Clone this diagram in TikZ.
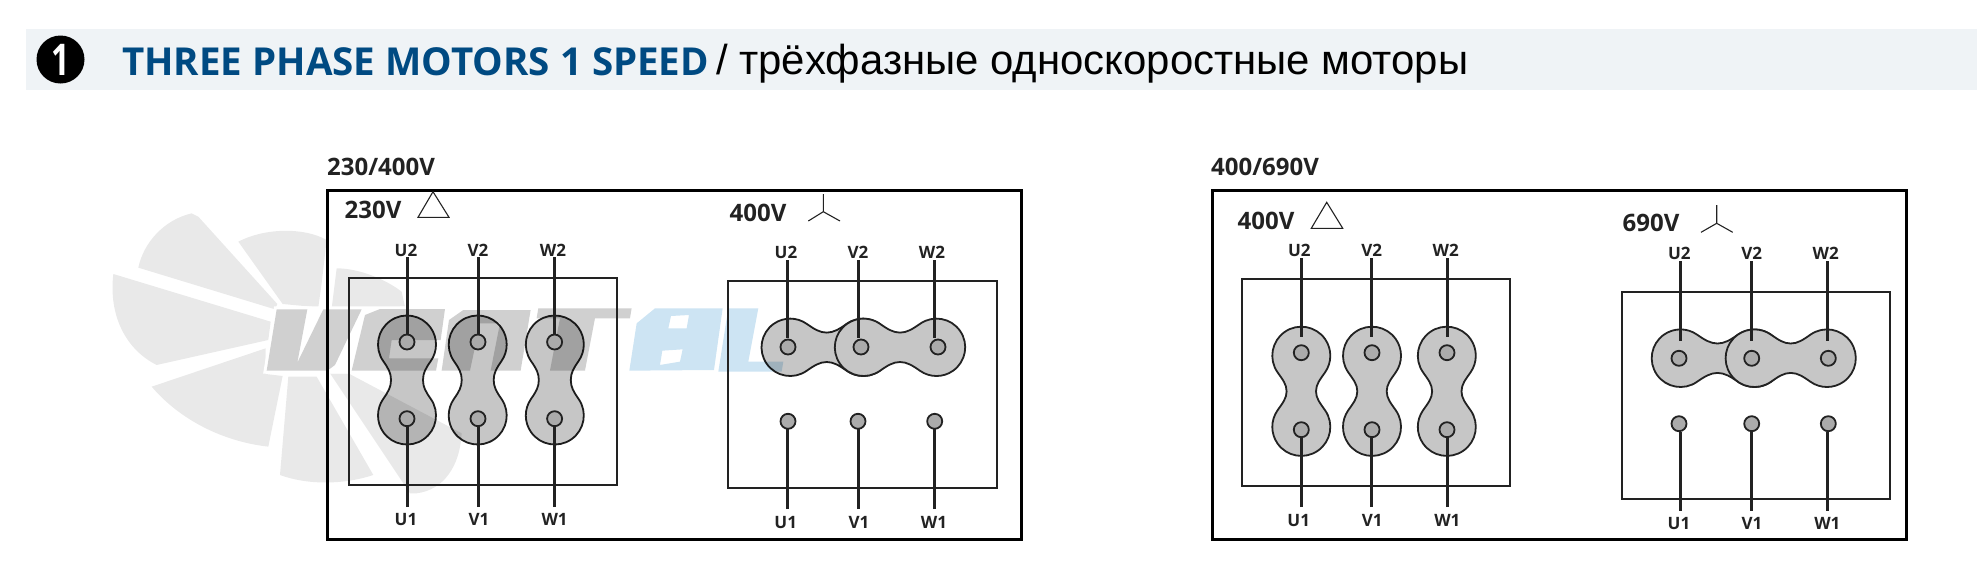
\documentclass[tikz,border=0pt]{standalone}
\usepackage{fontspec}
\setmainfont{Open Sans}
\newfontfamily\rufont{Liberation Sans}
\definecolor{ink}{HTML}{222222}
\definecolor{band}{HTML}{EFF3F6}
\definecolor{navy}{HTML}{004A82}
\definecolor{fan}{HTML}{E9E9E9}
\definecolor{logogray}{HTML}{D0D0D0}
\definecolor{logoblue}{HTML}{CDE4F3}
\definecolor{linkfill}{HTML}{C6C6C6}
\definecolor{termfill}{HTML}{ABABAB}
\tikzset{
  outerbox/.style={draw=black,line width=3pt},
  innerbox/.style={draw=ink,line width=2pt},
  wire/.style={draw=ink,line width=3pt},
  thin symbol/.style={draw=ink,line width=1.1pt},
  linkplain/.style={draw=ink,line width=1.8pt,fill=linkfill},
  linkmult/.style={linkplain,blend mode=multiply},
  terminal/.style={circle,draw=ink,line width=1.8pt,fill=termfill,minimum size=15pt,inner sep=0pt},
  termlabel/.style={text=ink,font=\fontsize{17}{20}\selectfont\bfseries,inner sep=0pt,yshift=-1pt},
  voltlabel/.style={text=ink,font=\fontsize{24}{27}\selectfont\bfseries,inner sep=0pt},
}
% peanut link: centre x y, rotation, half spacing, radius, neck half width, style
\newcommand{\linkshape}[7]{%
  \begin{scope}[shift={(#1,#2)},rotate=#3]
  \draw[#7] ([shift={(0,#4)}]-35:#5) arc[start angle=-35,end angle=215,radius=#5]
    .. controls +(305:9) and +(0,7) .. (-#6,0)
    .. controls +(0,-7) and +(55:9) .. ([shift={(0,-#4)}]145:#5)
    arc[start angle=145,end angle=395,radius=#5]
    .. controls +(125:9) and +(0,-7) .. (#6,0)
    .. controls +(0,7) and +(235:9) .. cycle;
  \end{scope}}
% wire with label and terminal: id, text, label x y, terminal x y, wire x, wire y from, wire y to
\newcommand{\lead}[9]{%
  \node[terminal] (#1t) at (#5,#6) {};
  \node[termlabel] (#1l) at (#3,#4) {#2};
  \coordinate (#1a) at (#7,#8);
  \coordinate (#1b) at (#7,#9);
  \draw[wire] (#1a) -- (#1b);}
\begin{document}
\begin{tikzpicture}[x=1pt,y=-1pt]
\useasboundingbox (0,0) rectangle (1977,563);
% watermark: fan
\begin{scope}[shift={(100,200)},x=0.3333pt,y=-0.3333pt,fill=fan]
\fill (115,203) .. controls (130,130) and (190,60) .. (275,40) -- (295,50) -- (532,312) -- (525,328) -- cycle;
\fill (40,222) -- (512,365) -- (505,420) -- (170,495) .. controls (80,450) and (25,350) .. (40,222) -- cycle;
\fill (155,560) -- (497,445) -- (497,522) -- (548,528) -- (505,740) .. controls (370,725) and (240,660) .. (155,560) -- cycle;
\fill (565,530) -- (650,530) -- (820,825) .. controls (730,855) and (620,855) .. (540,825) -- cycle;
\fill (415,125) .. controls (490,85) and (610,80) .. (680,120) -- (665,250) -- (655,322) -- (548,312) -- cycle;
\fill (710,205) .. controls (780,205) and (860,240) .. (905,275) -- (915,320) -- (790,322) -- (695,325) -- cycle;
\fill (690,520) -- (745,520) -- (1085,700) .. controls (1080,800) and (1030,870) .. (950,880) -- (930,880) -- cycle;
\end{scope}
% watermark: logo
\begin{scope}[shift={(250,290)},x=0.3333pt,y=-0.3333pt]
\path[draw=white,line width=6pt,fill=white]
  (80,58) -- (840,58) -- (815,242) -- (50,242) -- cycle;
\path[draw=white,line width=6pt,fill=white]
  (860,55) -- (1145,55) -- (1130,85) -- (1020,85) -- (985,242) -- (880,242) -- cycle;
\fill[logogray] (80,58) -- (172,58) -- (142,218) -- (220,58) -- (335,58) -- (255,225) -- (232,242) -- (50,242) -- cycle;
\fill[logogray] (345,75) -- (390,57) -- (585,57) -- (572,150) -- (425,150) -- (417,205) -- (510,205) -- (565,205) -- (558,242) -- (305,242) -- cycle;
\fill[logogray] (575,242) -- (597,90) -- (640,60) -- (842,60) -- (812,242) -- (722,242) -- (750,100) -- (690,100) -- (660,242) -- cycle;
\fill[logogray] (865,55) -- (1145,55) -- (1140,85) -- (1035,85) -- (1005,242) -- (900,242) -- (930,85) -- (860,85) -- cycle;
\end{scope}
\begin{scope}[shift={(540,290)},x=0.3333pt,y=-0.3333pt]
\fill[logoblue,even odd rule] (268,242) -- (290,100) -- (345,55) -- (548,55) -- (522,240) -- cycle
  (393,78) -- (447,75) -- (440,115) -- (385,115) -- cycle
  (367,182) -- (428,178) -- (420,215) -- (360,225) -- cycle;
\fill[logoblue] (565,55) -- (655,55) -- (625,215) -- (730,215) -- (725,245) -- (535,245) -- cycle;
\end{scope}
% header
\fill[band] (26,29) rectangle (1977,89.5);
\node[circle,fill=black,minimum size=48pt,inner sep=0pt,text=white,font=\fontsize{38}{40}\selectfont\bfseries] (bullet) at (60.5,59.5) {\scalebox{0.85}[1.15]{1}};
\node[anchor=base west,inner sep=0pt,text=navy,font=\fontsize{38.5}{40}\selectfont\bfseries] (titleen) at (122,75) {THREE PHASE MOTORS 1 SPEED};
\node[anchor=base west,inner sep=0pt,text=black,font=\fontsize{41.9}{44}\selectfont\rufont] (titleru) at (716,74.5) {/ трёхфазные односкоростные моторы};
% panel 1
\node[voltlabel] (p1) at (381,167) {230/400V};
\path[outerbox] (327,190) rectangle (1021.5,539);
\path[innerbox] (349,277.7) rectangle (617,484.7);
\node[voltlabel] (p1a) at (373,210) {230V};
\draw[thin symbol] (433,191.7) -- (418,217.3) -- (449,217.3) -- cycle;
\linkshape{407}{380}{0}{35.5}{29}{16}{linkmult}
\linkshape{477.7}{380}{0}{35.5}{29}{16}{linkmult}
\linkshape{554.8}{380}{0}{35.5}{29}{16}{linkmult}
\lead{au2}{U2}{406}{249.7}{407}{342}{407}{257}{335}
\lead{av2}{V2}{478}{249.7}{478}{342}{478}{257}{335}
\lead{aw2}{W2}{553}{249.7}{554.6}{342}{554.6}{257}{335}
\lead{au1}{U1}{406}{518.7}{407}{418.7}{407}{507}{425}
\lead{av1}{V1}{479}{518.7}{478}{418.7}{478}{507}{425}
\lead{aw1}{W1}{554.6}{518.7}{554.6}{418.7}{554.6}{507}{425}
% panel 2
\path[innerbox] (727.7,281) rectangle (997,488);
\node[voltlabel] (p1b) at (758,212.7) {400V};
\coordinate (s1) at (823.3,211.7);
\coordinate (s1a) at (823.3,194);
\coordinate (s1b) at (808.3,221);
\coordinate (s1c) at (840,221);
\draw[thin symbol] (s1) -- (s1a) (s1) -- (s1b) (s1) -- (s1c);
\linkshape{826.7}{347.3}{90}{36.5}{28.7}{14.7}{linkmult}
\linkshape{900}{347.3}{90}{36.5}{28.7}{14.7}{linkplain}
\lead{bu2}{U2}{786}{251.7}{788}{347}{787.3}{260}{338}
\lead{bv2}{V2}{858}{251.7}{861}{347}{858.3}{260}{338}
\lead{bw2}{W2}{932}{251.7}{938}{347}{934.3}{260}{338}
\lead{bu1}{U1}{785.7}{521.3}{788}{421.3}{787.3}{509}{428}
\lead{bv1}{V1}{859}{521.3}{858}{421.3}{858.3}{509}{428}
\lead{bw1}{W1}{934}{521.3}{934.7}{421.3}{934.3}{509}{428}
% panel 3
\node[voltlabel] (p2) at (1265,167) {400/690V};
\path[outerbox] (1212,190) rectangle (1906.7,539);
\path[innerbox] (1241.7,278.7) rectangle (1510,485.7);
\node[voltlabel] (p2a) at (1266,220.7) {400V};
\draw[thin symbol] (1326.7,202.3) -- (1311.3,228.3) -- (1342.7,228.3) -- cycle;
\linkshape{1301.3}{391.3}{0}{35.6}{29}{14.7}{linkplain}
\linkshape{1372}{391.3}{0}{35.6}{29}{14.7}{linkplain}
\linkshape{1446.8}{391.3}{0}{35.6}{29}{14.7}{linkplain}
\lead{cu2}{U2}{1299.3}{249.7}{1301.3}{352.7}{1301.3}{258.3}{337}
\lead{cv2}{V2}{1371.7}{249.7}{1372}{352.7}{1371.3}{258.3}{337}
\lead{cw2}{W2}{1445.7}{249.7}{1447}{352.7}{1447.3}{258.3}{337}
\lead{cu1}{U1}{1298.7}{519.3}{1301.3}{429.7}{1301.3}{507}{437}
\lead{cv1}{V1}{1372.3}{519.3}{1372}{429.7}{1371.3}{507}{437}
\lead{cw1}{W1}{1447.3}{519.3}{1447}{429.7}{1447.3}{507}{437}
% panel 4
\path[innerbox] (1621.7,292) rectangle (1890,499);
\node[voltlabel] (p2b) at (1651,223.3) {690V};
\coordinate (s2) at (1716.7,223.3);
\coordinate (s2a) at (1716.7,205);
\coordinate (s2b) at (1701,232.3);
\coordinate (s2c) at (1732.7,232.3);
\draw[thin symbol] (s2) -- (s2a) (s2) -- (s2b) (s2) -- (s2c);
\linkshape{1717.5}{358.2}{90}{37}{28.8}{14.7}{linkplain}
\linkshape{1790.7}{358.2}{90}{36.3}{28.8}{14.7}{linkplain}
\lead{du2}{U2}{1679.3}{252.7}{1679}{358.3}{1680.3}{261}{340.7}
\lead{dv2}{V2}{1751.7}{252.7}{1751.7}{358.3}{1751.3}{261}{340.7}
\lead{dw2}{W2}{1825.7}{252.7}{1828.3}{358.3}{1827.3}{261}{340.7}
\lead{du1}{U1}{1679}{522.7}{1679}{423.7}{1680.3}{510.7}{431.7}
\lead{dv1}{V1}{1752}{522.7}{1751.7}{423.7}{1751.3}{510.7}{431.7}
\lead{dw1}{W1}{1827.3}{522.7}{1828.3}{423.7}{1827.3}{510.7}{431.7}
\end{tikzpicture}
\end{document}
